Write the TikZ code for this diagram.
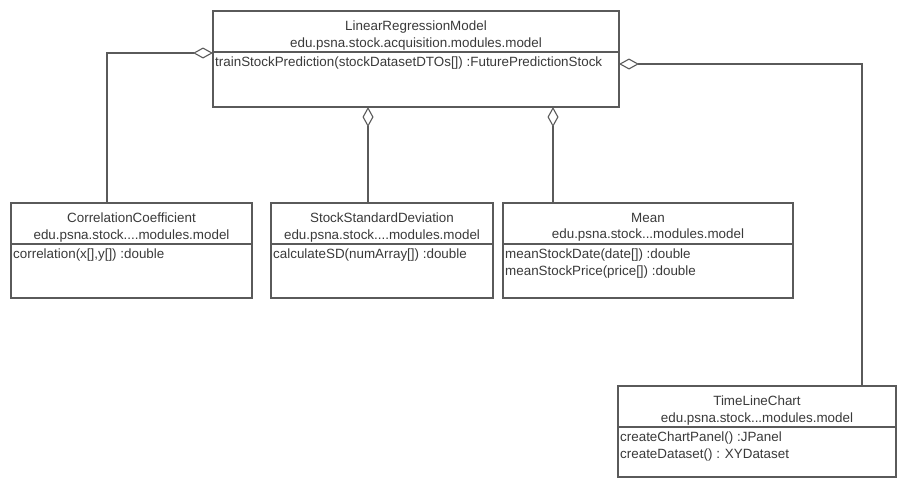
\documentclass[tikz,border=0pt]{standalone}
\usepackage{fontspec}
\setmainfont{Liberation Sans}
\usetikzlibrary{arrows.meta}
\definecolor{lineC}{HTML}{5A5A5A}
\definecolor{textC}{HTML}{3A3A3A}
\tikzset{
  classbox/.style={draw=lineC, line width=1.1pt, fill=white, anchor=north west, inner sep=0pt, outer sep=0pt},
  ttl/.style={anchor=north, align=center, text=textC, font=\fontsize{13.4}{16.5}\selectfont, inner sep=0pt},
  meth/.style={anchor=north west, align=left, text=textC, font=\fontsize{13.4}{16.5}\selectfont, inner sep=0pt},
  divider/.style={draw=lineC, line width=1.1pt},
  agg/.style={draw=lineC, line width=1.1pt, {Diamond[open, length=20pt, width=11pt, line width=1.1pt]}-},
}
\begin{document}
\begin{tikzpicture}[x=1pt, y=-1pt]
\useasboundingbox (0,0) rectangle (898,479);
% LinearRegressionModel
\node[classbox, minimum width=406, minimum height=96] (lrm) at (213,11) {};
\draw[divider] ([yshift=-41]lrm.north west) -- ([yshift=-41]lrm.north east);
\node[ttl] (lrmt) at ([yshift=-10]lrm.north) {LinearRegressionModel\\edu.psna.stock.acquisition.modules.model};
\node[meth] (lrmm) at ([xshift=2,yshift=-46]lrm.north west) {trainStockPrediction(stockDatasetDTOs[]) :FuturePredictionStock};
% CorrelationCoefficient
\node[classbox, minimum width=241, minimum height=95] (cc) at (11,203) {};
\draw[divider] ([yshift=-41]cc.north west) -- ([yshift=-41]cc.north east);
\node[ttl] (cct) at ([yshift=-10]cc.north) {CorrelationCoefficient\\edu.psna.stock....modules.model};
\node[meth] (ccm) at ([xshift=2,yshift=-46]cc.north west) {correlation(x[],y[]) :double};
% StockStandardDeviation
\node[classbox, minimum width=222, minimum height=95] (ssd) at (271,203) {};
\draw[divider] ([yshift=-41]ssd.north west) -- ([yshift=-41]ssd.north east);
\node[ttl] (ssdt) at ([yshift=-10]ssd.north) {StockStandardDeviation\\edu.psna.stock....modules.model};
\node[meth] (ssdm) at ([xshift=2,yshift=-46]ssd.north west) {calculateSD(numArray[]) :double};
% Mean
\node[classbox, minimum width=290, minimum height=95] (mean) at (503,203) {};
\draw[divider] ([yshift=-41]mean.north west) -- ([yshift=-41]mean.north east);
\node[ttl] (meant) at ([yshift=-10]mean.north) {Mean\\edu.psna.stock...modules.model};
\node[meth] (meanm) at ([xshift=2,yshift=-46]mean.north west) {meanStockDate(date[]) :double\\meanStockPrice(price[]) :double};
% TimeLineChart
\node[classbox, minimum width=278, minimum height=91] (tlc) at (618,386) {};
\draw[divider] ([yshift=-41]tlc.north west) -- ([yshift=-41]tlc.north east);
\node[ttl] (tlct) at ([yshift=-10]tlc.north) {TimeLineChart\\edu.psna.stock...modules.model};
\node[meth] (tlcm) at ([xshift=2,yshift=-46]tlc.north west) {createChartPanel() :JPanel\\createDataset() : XYDataset};
% connectors
\draw[agg] ([yshift=-42]lrm.north west) -| ([xshift=96]cc.north west);
\draw[agg] ([xshift=155]lrm.south west) -- ([xshift=97]ssd.north west);
\draw[agg] ([xshift=340]lrm.south west) -- ([xshift=50]mean.north west);
\draw[agg] ([yshift=-53]lrm.north east) -| ([xshift=244]tlc.north west);
\end{tikzpicture}
\end{document}
